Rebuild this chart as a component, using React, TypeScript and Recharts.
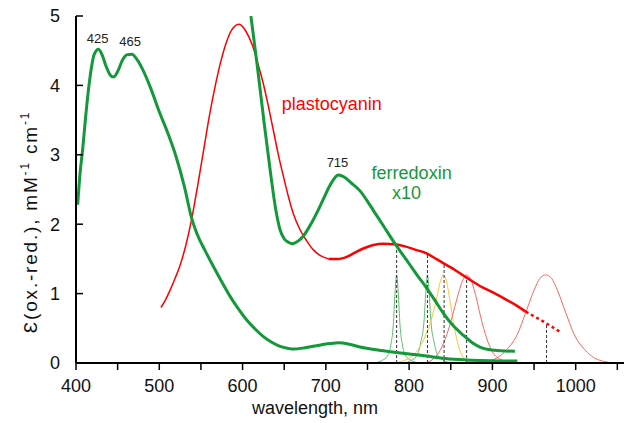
import React from 'react';
import { LineChart, Line, XAxis, YAxis, ReferenceDot } from 'recharts';

type Pt = [number, number];

// ferredoxin, thick green (x1)
const ferredoxin: Pt[] = [
  [402, 2.28], [405, 2.75], [408, 3.08], [412, 3.6], [416, 4.04], [422, 4.45], [427, 4.52],
  [432, 4.42], [436, 4.28], [441, 4.15], [445, 4.12], [450, 4.2], [456, 4.37], [461, 4.44],
  [467, 4.45], [474, 4.36], [480, 4.23], [490, 3.95], [500, 3.62], [510, 3.32], [520, 2.98],
  [530, 2.55], [539, 2.08], [545, 1.87], [555, 1.62], [565, 1.39], [575, 1.17], [585, 0.96],
  [595, 0.78], [605, 0.62], [615, 0.49], [625, 0.38], [635, 0.3], [645, 0.24], [655, 0.21],
  [661, 0.2], [675, 0.22], [689, 0.25], [705, 0.28], [715, 0.29], [728, 0.27], [741, 0.23],
  [760, 0.19], [780, 0.16], [800, 0.13], [821, 0.1], [840, 0.07], [861, 0.05], [885, 0.035],
  [910, 0.03], [930, 0.03],
];

// ferredoxin x10, thick green
const ferredoxin10: Pt[] = [
  [610, 5.0], [618, 4.25], [626, 3.45], [634, 2.7], [640, 2.2], [645, 1.92], [650, 1.79],
  [655, 1.74], [660, 1.72], [667, 1.76], [673, 1.83], [681, 1.98], [689, 2.16], [697, 2.36],
  [705, 2.56], [715, 2.71], [722, 2.68], [730, 2.6], [741, 2.48], [750, 2.33], [757, 2.2],
  [770, 1.96], [783, 1.72], [800, 1.43], [810, 1.26], [821, 1.08], [830, 0.92], [841, 0.72],
  [852, 0.55], [865, 0.4], [875, 0.3], [885, 0.23], [897, 0.19], [910, 0.175], [927, 0.17],
];

// plastocyanin, red: thin part, thick part, dashed tail
const plastoThin: Pt[] = [
  [502, 0.8], [507, 0.9], [513, 1.05], [519, 1.22], [525, 1.41], [532, 1.7], [539, 2.08],
  [546, 2.55], [553, 3.05], [560, 3.55], [568, 4.04], [574, 4.35], [580, 4.6], [587, 4.8],
  [596, 4.88], [604, 4.78], [612, 4.57], [618, 4.33], [625, 4.02], [631, 3.7], [637, 3.35],
  [643, 3.0], [649, 2.69], [655, 2.4], [661, 2.15], [669, 1.92], [677, 1.76], [685, 1.63],
  [693, 1.55], [703, 1.5],
];
const plastoThick: Pt[] = [
  [703, 1.5], [715, 1.5], [725, 1.53], [735, 1.59], [745, 1.65], [757, 1.7], [769, 1.72],
  [783, 1.71], [795, 1.68], [808, 1.63], [821, 1.58], [831, 1.51], [841, 1.44], [855, 1.34],
  [869, 1.23], [885, 1.11], [900, 1.02], [917, 0.91], [930, 0.82], [940, 0.74],
];
const plastoDashed: Pt[] = [[940, 0.74], [952, 0.66], [965, 0.57], [981, 0.45]];

// thin emission-like bands
const band785: Pt[] = [
  [758, 0], [768, 0.04], [774, 0.1], [778, 0.26], [781, 0.55], [783, 1.0], [785, 1.27],
  [787, 1.0], [789, 0.55], [792, 0.26], [796, 0.1], [802, 0.04], [812, 0],
];
const band822: Pt[] = [
  [793, 0], [803, 0.04], [810, 0.12], [814, 0.3], [818, 0.62], [820, 1.02], [822, 1.27],
  [824, 1.02], [826, 0.62], [830, 0.3], [834, 0.12], [841, 0.04], [851, 0],
];
const band842: Pt[] = [
  [780, 0], [795, 0.04], [808, 0.15], [818, 0.35], [826, 0.6], [832, 0.88], [837, 1.15],
  [841, 1.27], [845, 1.17], [849, 0.9], [853, 0.6], [858, 0.3], [863, 0.12], [870, 0.03], [878, 0],
];
const band869: Pt[] = [
  [820, 0], [830, 0.07], [838, 0.2], [845, 0.4], [852, 0.68], [858, 0.95], [864, 1.18],
  [869, 1.27], [874, 1.2], [880, 0.97], [886, 0.66], [893, 0.36], [900, 0.16], [910, 0.05], [925, 0],
];
const band965: Pt[] = [
  [880, 0], [895, 0.03], [905, 0.07], [917, 0.19], [929, 0.39], [941, 0.76], [950, 1.05],
  [957, 1.22], [964, 1.27], [971, 1.22], [978, 1.05], [987, 0.76], [999, 0.39], [1011, 0.19],
  [1023, 0.07], [1035, 0.02], [1045, 0],
];

// dashed markers: wavelength and height (plastocyanin value there)
const markerX = [785, 822, 842, 869, 965];
const markerTop = [1.71, 1.58, 1.44, 1.23, 0.57];

const xTicks = [400, 450, 500, 550, 600, 650, 700, 750, 800, 850, 900, 950, 1000, 1050];
const xTopTicks = [500, 600, 700, 800, 900, 1000];
const yTicks = [0, 1, 2, 3, 4, 5];
const yRightTicks = [1, 2, 3, 4];

const peakLabels = [
  { w: 426, v: 4.68, text: '425' },
  { w: 465, v: 4.63, text: '465' },
  { w: 714, v: 2.89, text: '715' },
];
const nameLabels = [
  { w: 707, v: 3.74, text: 'plastocyanin', color: '#ff0000' },
  { w: 803, v: 2.74, text: 'ferredoxin', color: '#13983a' },
  { w: 797, v: 2.46, text: 'x10', color: '#13983a' },
];

const pts = (a: Pt[]) => a.map(([w, v]) => ({ w, v }));

const FONT = '"Liberation Sans", Arial, sans-serif';
const GREEN = '#13983a';
const RED = '#ff0000';

const YLabel = () => (
  <text
    x={37}
    y={222}
    transform="rotate(-90, 37, 222)"
    textAnchor="middle"
    fontFamily={FONT}
    fontSize={19}
    letterSpacing={1.8}
    fill="#111"
  >
    Ɛ(ox.-red.), mM
    <tspan dy={-8} fontSize={12}>-1</tspan>
    <tspan dy={8}> cm</tspan>
    <tspan dy={-8} fontSize={12}>-1</tspan>
  </text>
);

const XLabel = () => (
  <text x={315} y={414} textAnchor="middle" fontFamily={FONT} fontSize={18} fill="#111">
    wavelength, nm
  </text>
);

export default function App() {
  const thin = (data: Pt[], color: string, key: string) => (
    <Line
      key={key}
      data={pts(data)}
      dataKey="v"
      type="monotone"
      stroke={color}
      strokeWidth={1}
      dot={false}
      activeDot={false}
      isAnimationActive={false}
    />
  );
  return (
    <div style={{ position: 'absolute', left: 0, top: 0, width: 624, height: 423, background: '#fff' }}>
      <LineChart width={624} height={423} margin={{ top: 16, right: 0, bottom: 0, left: 0 }} style={{ fontFamily: FONT }}>
        <XAxis
          dataKey="w"
          type="number"
          domain={[400, 1058]}
          ticks={xTicks}
          tickFormatter={(v: number) => (v % 100 === 0 && v <= 1000 ? String(v) : '')}
          height={60}
          tickSize={7}
          tickMargin={9}
          axisLine={{ stroke: '#000', strokeWidth: 2 }}
          tickLine={{ stroke: '#000', strokeWidth: 1.5 }}
          tick={{ fill: '#111', fontSize: 18, fontFamily: FONT }}
          label={<XLabel />}
          allowDataOverflow
        />
        <XAxis
          xAxisId="top"
          orientation="top"
          dataKey="w"
          type="number"
          domain={[400, 1058]}
          ticks={xTopTicks}
          tickFormatter={() => ''}
          height={0}
          tickSize={-9}
          axisLine={{ stroke: '#000', strokeWidth: 2 }}
          tickLine={{ stroke: '#000', strokeWidth: 1.5 }}
          allowDataOverflow
        />
        <YAxis
          type="number"
          domain={[0, 5]}
          ticks={yTicks}
          width={76}
          tickSize={-7}
          tickMargin={23}
          axisLine={{ stroke: '#000', strokeWidth: 2 }}
          tickLine={{ stroke: '#000', strokeWidth: 1.5 }}
          tick={{ fill: '#111', fontSize: 18, fontFamily: FONT }}
          label={<YLabel />}
          allowDataOverflow
        />
        <YAxis
          yAxisId="right"
          orientation="right"
          type="number"
          domain={[0, 5]}
          ticks={yRightTicks}
          width={0}
          tickSize={-7}
          tickFormatter={() => ''}
          axisLine={false}
          tickLine={{ stroke: '#000', strokeWidth: 1.5 }}
        />

        {thin(band785, '#5cbf6e', 'b785')}
        {thin(band822, '#5cbf6e', 'b822')}
        {thin(band842, '#ffc23c', 'b842')}
        {thin(band869, '#ff6464', 'b869')}
        {thin(band965, '#ff6464', 'b965')}

        {markerX.map((x, i) => (
          <Line
            key={`m${x}`}
            data={[{ w: x, v: 0 }, { w: x, v: markerTop[i] }]}
            dataKey="v"
            type="linear"
            stroke="#333"
            strokeWidth={1}
            strokeDasharray="3 2"
            dot={false}
            activeDot={false}
            isAnimationActive={false}
          />
        ))}

        <Line data={pts(plastoThin)} dataKey="v" type="monotone" stroke={RED} strokeWidth={1.5} dot={false} activeDot={false} isAnimationActive={false} />
        <Line data={pts(plastoThick)} dataKey="v" type="monotone" stroke={RED} strokeWidth={2.5} dot={false} activeDot={false} isAnimationActive={false} />
        <Line data={pts(plastoDashed)} dataKey="v" type="monotone" stroke={RED} strokeWidth={2.5} strokeDasharray="3 3" dot={false} activeDot={false} isAnimationActive={false} />

        <Line data={pts(ferredoxin)} dataKey="v" type="monotone" stroke={GREEN} strokeWidth={3} dot={false} activeDot={false} isAnimationActive={false} />
        <Line data={pts(ferredoxin10)} dataKey="v" type="monotone" stroke={GREEN} strokeWidth={3} dot={false} activeDot={false} isAnimationActive={false} />

        {peakLabels.map((p) => (
          <ReferenceDot
            key={p.text}
            x={p.w}
            y={p.v}
            r={0}
            fill="none"
            stroke="none"
            label={{ value: p.text, position: 'center', fill: '#222', fontSize: 13, fontFamily: FONT }}
          />
        ))}
        {nameLabels.map((p) => (
          <ReferenceDot
            key={p.text}
            x={p.w}
            y={p.v}
            r={0}
            fill="none"
            stroke="none"
            label={{ value: p.text, position: 'center', fill: p.color, fontSize: 18, fontFamily: FONT }}
          />
        ))}
      </LineChart>
    </div>
  );
}
